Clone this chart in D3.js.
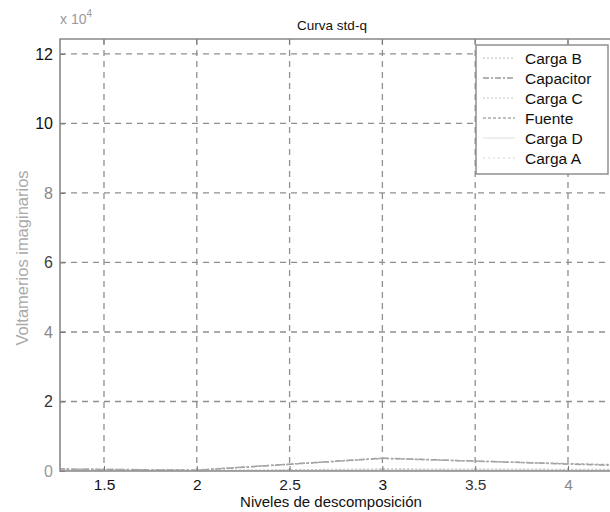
<!DOCTYPE html>
<html>
<head>
<meta charset="utf-8">
<script src="https://cdn.jsdelivr.net/npm/d3@7"></script>
<style>
  html, body { margin: 0; padding: 0; background: #fff; }
  svg { display: block; font-family: "Liberation Sans", Arial, sans-serif; }
</style>
</head>
<body>
<svg id="chart" width="610" height="512"></svg>
<script>
// Decomposition levels and std of reactive power per branch (units of 1e4 VAr)
const levels = [1, 2, 3, 4, 5];
const seriesNames = ["Carga B", "Capacitor", "Carga C", "Fuente", "Carga D", "Carga A"];
const cargaB    = [0.02, 0.01, 0.04, 0.03, 0.02];
const capacitor = [0.07, 0.02, 0.37, 0.20, 0.05];
const cargaC    = [0.03, 0.01, 0.06, 0.05, 0.03];
const fuente    = [0.06, 0.03, 0.36, 0.21, 0.09];
const cargaD    = [0.01, 0.00, 0.02, 0.02, 0.01];
const cargaA    = [0.02, 0.01, 0.03, 0.02, 0.01];
const xTicks = [1.5, 2, 2.5, 3, 3.5, 4];
const yTicks = [0, 2, 4, 6, 8, 10, 12];

const seriesValues = [cargaB, capacitor, cargaC, fuente, cargaD, cargaA];
const seriesStyle = [
  { color: "#bbb", dash: "2,2", width: 1.2 },
  { color: "#999", dash: "6,2,2,2", width: 1.5 },
  { color: "#c4c4c4", dash: "2,2", width: 1.2 },
  { color: "#aaa", dash: "3,2", width: 1.5 },
  { color: "#ddd", dash: null, width: 1 },
  { color: "#d6d6d6", dash: "2,3", width: 1 }
];

const svg = d3.select("#chart");
const plotLeft = 60, plotTop = 39, plotBottom = 471;

const x = d3.scaleLinear().domain([1.263, 4.5]).range([plotLeft, plotLeft + 3.237 * 185.6]);
const y = d3.scaleLinear().domain([0, 12.43]).range([plotBottom, plotTop]);
const plotRight = x.range()[1];

svg.append("defs").append("clipPath").attr("id", "plot-area")
  .append("rect").attr("x", plotLeft).attr("y", plotTop)
  .attr("width", plotRight - plotLeft).attr("height", plotBottom - plotTop);

const plot = svg.append("g").attr("clip-path", "url(#plot-area)");

// dashed grid
plot.selectAll("line.vgrid").data(xTicks).join("line")
  .attr("x1", d => x(d)).attr("x2", d => x(d))
  .attr("y1", plotTop).attr("y2", plotBottom)
  .attr("stroke", "#8f8f8f").attr("stroke-width", 1.3)
  .attr("stroke-dasharray", "6,5");
plot.selectAll("line.hgrid").data(yTicks.filter(d => d > 0)).join("line")
  .attr("x1", plotLeft).attr("x2", plotRight)
  .attr("y1", d => y(d)).attr("y2", d => y(d))
  .attr("stroke", "#8f8f8f").attr("stroke-width", 1.3)
  .attr("stroke-dasharray", "6,5");

// series lines
const line = d3.line().x((d, i) => x(levels[i])).y(d => y(d));
seriesValues.forEach((vals, k) => {
  plot.append("path")
    .datum(vals)
    .attr("d", line)
    .attr("fill", "none")
    .attr("stroke", seriesStyle[k].color)
    .attr("stroke-width", seriesStyle[k].width)
    .attr("stroke-dasharray", seriesStyle[k].dash);
});

// axes
const xAxis = d3.axisBottom(x).tickValues(xTicks).tickSize(-5).tickPadding(8)
  .tickFormat(d => d3.format("")(d));
const gx = svg.append("g").attr("transform", `translate(0,${plotBottom})`).call(xAxis);
gx.select(".domain").remove();
gx.selectAll(".tick line").attr("stroke", "#777");
const xLabelColors = ["#111", "#111", "#222", "#111", "#333", "#888"];
gx.selectAll(".tick text")
  .attr("font-size", 15.5)
  .attr("fill", (d, i) => xLabelColors[i]);

const yAxis = d3.axisLeft(y).tickValues(yTicks).tickSize(-5).tickPadding(7);
const gy = svg.append("g").attr("transform", `translate(${plotLeft},0)`).call(yAxis);
gy.select(".domain").remove();
gy.selectAll(".tick line").attr("stroke", "#777");
const yLabelColors = ["#999", "#333", "#888", "#444", "#888", "#111", "#111"];
gy.selectAll(".tick text")
  .attr("font-size", 16)
  .attr("fill", (d, i) => yLabelColors[i]);

// top ticks
svg.selectAll("line.ttick").data(xTicks).join("line")
  .attr("x1", d => x(d)).attr("x2", d => x(d))
  .attr("y1", plotTop).attr("y2", plotTop + 5)
  .attr("stroke", "#777");

// axes box
svg.append("path")
  .attr("d", `M${plotRight},${plotTop}H${plotLeft}V${plotBottom}H${plotRight}`)
  .attr("fill", "none").attr("stroke", "#888").attr("stroke-width", 1.6);

// exponent label
const expo = svg.append("text").attr("x", 60).attr("y", 24)
  .attr("font-size", 14).attr("fill", "#999");
expo.append("tspan").text("x 10");
expo.append("tspan").attr("dy", -7).attr("font-size", 10).text("4");

// title
svg.append("text").attr("x", 332).attr("y", 30)
  .attr("text-anchor", "middle").attr("font-size", 13.5).attr("fill", "#111")
  .text("Curva std-q");

// axis titles
svg.append("text").attr("x", 331).attr("y", 507)
  .attr("text-anchor", "middle").attr("font-size", 15).attr("fill", "#111")
  .text("Niveles de descomposición");
svg.append("text")
  .attr("transform", "translate(28,258) rotate(-90)")
  .attr("text-anchor", "middle").attr("font-size", 16.5).attr("fill", "#aaa")
  .text("Voltamerios imaginarios");

// legend
const lg = svg.append("g");
lg.append("rect").attr("x", 476).attr("y", 45).attr("width", 132).attr("height", 129)
  .attr("fill", "#fff").attr("stroke", "#888").attr("stroke-width", 1.4);
seriesNames.forEach((name, k) => {
  const yy = 58 + k * 20;
  lg.append("line").attr("x1", 483).attr("x2", 515).attr("y1", yy).attr("y2", yy)
    .attr("stroke", seriesStyle[k].color).attr("stroke-width", seriesStyle[k].width)
    .attr("stroke-dasharray", seriesStyle[k].dash);
  lg.append("text").attr("x", 525).attr("y", yy + 5.5)
    .attr("font-size", 15.5).attr("fill", "#111").text(name);
});
</script>
</body>
</html>
